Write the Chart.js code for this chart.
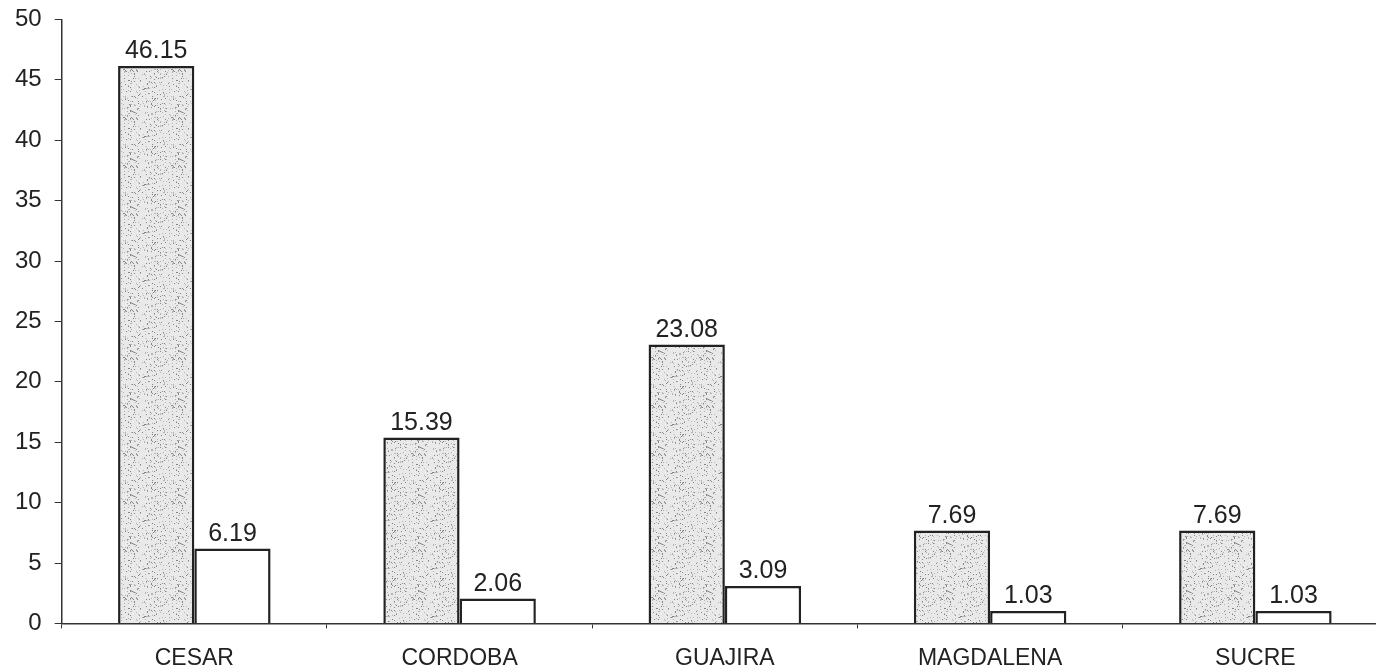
<!DOCTYPE html>
<html>
<head>
<meta charset="utf-8">
<script src="https://cdn.jsdelivr.net/npm/chart.js@4.4.1/dist/chart.umd.min.js"></script>
<style>
  html, body { margin: 0; padding: 0; background: #fff; overflow: hidden; }
  #wrap { width: 1392px; height: 696px; margin-top: -8px; }
</style>
</head>
<body>
<div id="wrap"><canvas id="chart" width="1392" height="696"></canvas></div>
<script>
// datos
const categories = ['CESAR', 'CORDOBA', 'GUAJIRA', 'MAGDALENA', 'SUCRE'];
const serieGris = [46.15, 15.39, 23.08, 7.69, 7.69];
const serieBlanca = [6.19, 2.06, 3.09, 1.03, 1.03];
const yTicks = [0, 5, 10, 15, 20, 25, 30, 35, 40, 45, 50];

const FONT = "Arial, 'Liberation Sans', sans-serif";

// textura punteada para las barras grises (hash fijo, no aleatorio)
function makeStipple() {
    const c = document.createElement('canvas');
    c.width = 48; c.height = 48;
    const g = c.getContext('2d');
    g.fillStyle = '#e9e9e9';
    g.fillRect(0, 0, 48, 48);
    for (let y = 0; y < 48; y++) {
        for (let x = 0; x < 48; x++) {
            const h = ((x * 73856093) ^ (y * 19349663)) >>> 0;
            const v = (h % 97);
            if (v < 12) {
                g.fillStyle = v < 4 ? '#858585' : '#b4b4b4';
                g.fillRect(x, y, 1, 1);
            }
        }
    }
    return g.createPattern(c, 'repeat');
}

const valueLabels = {
    id: 'valueLabels',
    afterDatasetsDraw(chart) {
        const { ctx } = chart;
        ctx.save();
        ctx.font = '25px ' + FONT;
        ctx.fillStyle = '#222';
        ctx.textAlign = 'center';
        ctx.textBaseline = 'bottom';
        chart.data.datasets.forEach((ds, i) => {
            chart.getDatasetMeta(i).data.forEach((bar, j) => {
                ctx.fillText(ds.data[j].toFixed(2), bar.x, bar.y - 2);
            });
        });
        ctx.restore();
    }
};

new Chart(document.getElementById('chart'), {
    type: 'bar',
    data: {
        labels: categories,
        datasets: [{
            data: serieGris,
            backgroundColor: makeStipple(),
            borderColor: '#222',
            borderWidth: 2.5,
            borderSkipped: 'bottom'
        }, {
            data: serieBlanca,
            backgroundColor: '#ffffff',
            borderColor: '#222',
            borderWidth: 2.5,
            borderSkipped: 'bottom'
        }]
    },
    options: {
        responsive: false,
        animation: false,
        categoryPercentage: 0.575,
        barPercentage: 1.0,
        layout: { padding: { left: 2, right: 4, top: 6, bottom: 0 } },
        plugins: { legend: { display: false }, tooltip: { enabled: false } },
        scales: {
            x: {
                grid: { display: true, drawOnChartArea: false, drawTicks: true, tickLength: 5, color: '#333', offset: true },
                border: { color: '#333', width: 1.5 },
                ticks: { color: '#222', font: { family: FONT, size: 23 }, padding: 16, maxRotation: 0 }
            },
            y: {
                min: 0, max: 50,
                afterBuildTicks: (axis) => { axis.ticks = yTicks.map(v => ({ value: v })); },
                grid: { display: true, drawOnChartArea: false, drawTicks: true, tickLength: 7, color: '#333' },
                border: { color: '#333', width: 1.5 },
                ticks: { color: '#222', font: { family: FONT, size: 24 }, padding: 13 }
            }
        }
    },
    plugins: [valueLabels]
});
</script>
</body>
</html>
